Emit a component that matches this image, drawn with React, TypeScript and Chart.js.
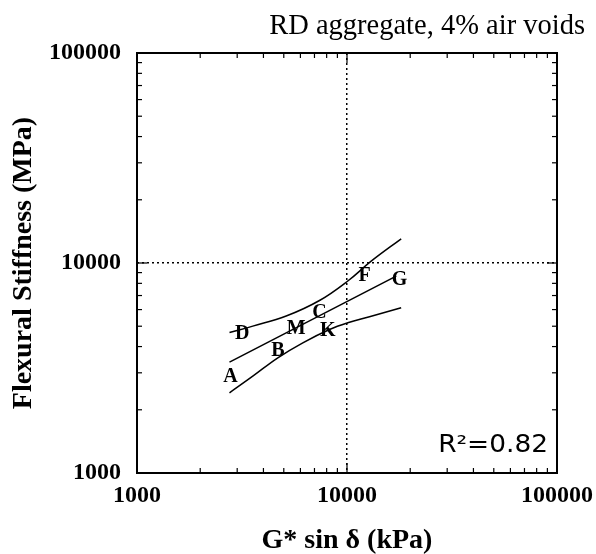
import React, { useEffect, useRef } from 'react';
import { Chart, registerables } from 'chart.js';

Chart.register(...registerables);

const titleText = 'RD aggregate, 4% air voids';
const xTitle = 'G* sin δ (kPa)';
const yTitle = 'Flexural Stiffness (MPa)';
const r2Label = 'R²=0.82';

const pointLabels = ['A', 'B', 'D', 'M', 'C', 'K', 'F', 'G'];
const pointX = [2787, 4683, 3170, 5730, 7396, 8103, 12115, 17783];
const pointY = [2891, 3844, 4653, 4914, 5833, 4786, 8748, 8410];

const fitX = [2757, 17155];
const fitY = [3371, 8652];

const upperX = [2757, 3559, 5134, 7396, 10088, 13036, 18113];
const upperY = [4667, 5006, 5592, 6629, 8209, 10200, 13036];

const lowerX = [2757, 3559, 4683, 6160, 8253, 10088, 12795, 18113];
const lowerY = [2410, 2891, 3537, 4169, 4824, 5191, 5544, 6118];

const tickLabelValues = [1000, 10000, 100000];
const gridValues = [10000];
const decades = [1000, 10000];
const minorMultipliers = [1, 2, 3, 4, 5, 6, 7, 8, 9];

const zip = (xs: number[], ys: number[]) => xs.map((x, i) => ({ x, y: ys[i] }));

const framePlugin = {
  id: 'frameTicks',
  afterDatasetsDraw(chart: any) {
    const { ctx } = chart;
    const meta = chart.getDatasetMeta(0);
    ctx.save();
    ctx.fillStyle = '#000';
    ctx.font = 'bold 20px "Liberation Serif"';
    ctx.textAlign = 'center';
    ctx.textBaseline = 'middle';
    meta.data.forEach((pt: any, i: number) => {
      ctx.fillText(pointLabels[i], pt.x, pt.y + 1);
    });
    ctx.restore();
  },
  afterDraw(chart: any) {
    const { ctx, chartArea: a, scales } = chart;
    const x = scales.x;
    const y = scales.y;
    ctx.save();
    ctx.strokeStyle = '#000';
    ctx.lineWidth = 1.2;
    const seg = (x1: number, y1: number, x2: number, y2: number) => {
      ctx.beginPath();
      ctx.moveTo(x1, y1);
      ctx.lineTo(x2, y2);
      ctx.stroke();
    };
    decades.forEach((d) => {
      minorMultipliers.forEach((m) => {
        const v = d * m;
        const len = m === 1 ? 10 : 5;
        const px = x.getPixelForValue(v);
        const py = y.getPixelForValue(v);
        seg(px, a.bottom, px, a.bottom - len);
        seg(px, a.top, px, a.top + len);
        seg(a.left, py, a.left + len, py);
        seg(a.right, py, a.right - len, py);
      });
    });
    ctx.lineWidth = 2;
    ctx.strokeRect(a.left, a.top, a.right - a.left, a.bottom - a.top);
    ctx.fillStyle = '#000';
    ctx.font = '24px "DejaVu Sans"';
    ctx.textAlign = 'right';
    ctx.textBaseline = 'alphabetic';
    ctx.translate(a.right - 9, a.bottom - 21);
    ctx.scale(1.1, 1);
    ctx.fillText(r2Label, 0, 0);
    ctx.restore();
  },
};

const tickFont = { family: 'Liberation Serif', size: 24, weight: 'bold' as const };
const axisTitleFont = { family: 'Liberation Serif', size: 28, weight: 'bold' as const, lineHeight: 1 };

const gridColor = (c: any) =>
  c.tick && gridValues.includes(c.tick.value) ? '#000' : 'rgba(0,0,0,0)';

export default function App() {
  const ref = useRef<HTMLCanvasElement | null>(null);
  useEffect(() => {
    if (!ref.current) return;
    const chart = new Chart(ref.current, {
      type: 'scatter',
      data: {
        datasets: [
          {
            type: 'scatter',
            data: zip(pointX, pointY),
            pointRadius: 0,
            borderColor: '#000',
            backgroundColor: '#000',
          },
          {
            type: 'line',
            data: zip(fitX, fitY),
            borderColor: '#000',
            borderWidth: 1.5,
            pointRadius: 0,
            fill: false,
          },
          {
            type: 'line',
            data: zip(upperX, upperY),
            borderColor: '#000',
            borderWidth: 1.5,
            pointRadius: 0,
            fill: false,
            tension: 0.4,
          },
          {
            type: 'line',
            data: zip(lowerX, lowerY),
            borderColor: '#000',
            borderWidth: 1.5,
            pointRadius: 0,
            fill: false,
            tension: 0.4,
          },
        ] as any,
      },
      options: {
        animation: false,
        responsive: false,
        layout: { padding: { left: 0, right: 11, top: 0, bottom: 0 } },
        plugins: {
          legend: { display: false },
          tooltip: { enabled: false },
          title: {
            display: true,
            text: titleText,
            align: 'end',
            color: '#000',
            font: { family: 'Liberation Serif', size: 28.5, weight: 'normal', lineHeight: 1.2 },
            padding: { top: 9, bottom: 9.8 },
          },
        },
        scales: {
          x: {
            type: 'logarithmic',
            position: 'bottom',
            min: 1000,
            max: 100000,
            afterFit: (s: any) => {
              s.height = 81;
              s.paddingLeft = 0;
              s.paddingRight = 0;
            },
            grid: { color: gridColor, lineWidth: 1.5, drawTicks: false },
            border: { display: false, dash: [2, 3] },
            ticks: {
              autoSkip: false,
              maxRotation: 0,
              padding: 8,
              color: '#000',
              font: tickFont,
              callback: (v: any) => (tickLabelValues.includes(Number(v)) ? String(v) : ''),
            },
            title: {
              display: true,
              text: xTitle,
              color: '#000',
              font: axisTitleFont,
              padding: { top: 0, bottom: -1 },
            },
          },
          y: {
            type: 'logarithmic',
            position: 'left',
            min: 1000,
            max: 100000,
            afterFit: (s: any) => {
              s.width = 137;
              s.paddingTop = 0;
              s.paddingBottom = 0;
            },
            grid: { color: gridColor, lineWidth: 1.5, drawTicks: false },
            border: { display: false, dash: [2, 3] },
            ticks: {
              autoSkip: false,
              padding: 16,
              color: '#000',
              font: tickFont,
              callback: (v: any) => (tickLabelValues.includes(Number(v)) ? String(v) : ''),
            },
            title: {
              display: true,
              text: yTitle,
              color: '#000',
              font: axisTitleFont,
              padding: { top: 10, bottom: 0 },
            },
          },
          yr: {
            type: 'linear',
            position: 'right',
            display: true,
            grid: { display: false },
            border: { display: false },
            ticks: { display: false },
            afterFit: (s: any) => {
              s.width = 28;
            },
          },
        },
      } as any,
      plugins: [framePlugin],
    });
    return () => chart.destroy();
  }, []);
  return (
    <div style={{ position: 'absolute', left: 0, top: 0, width: 596, height: 554 }}>
      <canvas ref={ref} width={596} height={554} style={{ display: 'block' }} />
    </div>
  );
}
